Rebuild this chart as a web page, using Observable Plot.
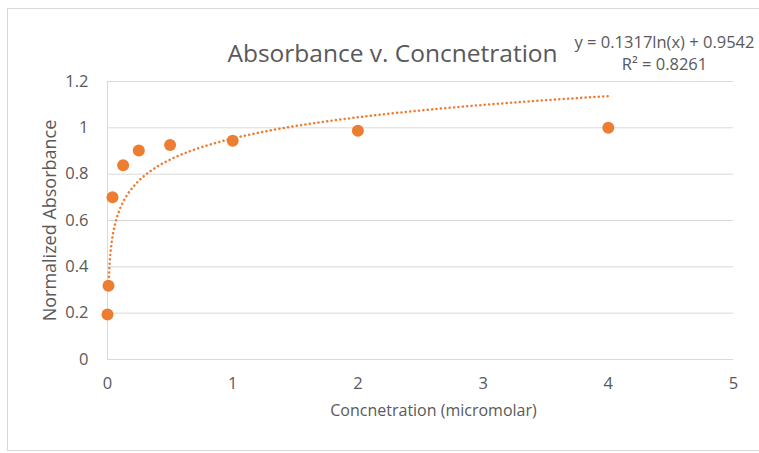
<!DOCTYPE html>
<html>
<head>
<meta charset="utf-8">
<script src="https://cdn.jsdelivr.net/npm/d3@7"></script>
<script src="https://cdn.jsdelivr.net/npm/@observablehq/plot@0.6"></script>
<style>
  html, body { margin: 0; padding: 0; background: #fff; }
  #wrap { position: relative; width: 759px; height: 453px; overflow: hidden; }
  #border { position: absolute; left: 7px; top: 8px; width: 800px; height: 441px; border: 1px solid #d9d9d9; pointer-events: none; }
  #chart { position: absolute; left: 0; top: 0; }
</style>
</head>
<body>
<div id="wrap"><div id="chart"></div><div id="border"></div></div>
<script>
const concentration = [0, 0.008, 0.04, 0.125, 0.25, 0.5, 1, 2, 4];
const absorbance = [0.194, 0.318, 0.70, 0.838, 0.902, 0.926, 0.944, 0.987, 1.0];
const xTicks = [0, 1, 2, 3, 4, 5];
const yTicks = [0, 0.2, 0.4, 0.6, 0.8, 1, 1.2];
const trendA = 0.1317, trendB = 0.9542, trendR2 = 0.8261;
const titleText = "Absorbance v. Concnetration";
const xLabel = "Concnetration (micromolar)";
const yLabel = "Normalized Absorbance";

const points = concentration.map((c, i) => ({x: c, y: absorbance[i]}));
const positive = concentration.filter(c => c > 0);
const xmin = d3.min(positive), xmax = d3.max(positive);
const trend = d3.range(0, 301).map(i => {
  const x = xmin * Math.pow(xmax / xmin, i / 300);
  return {x, y: trendA * Math.log(x) + trendB};
});

const orange = "#ED7D31";
const grey = "#595959";
const font = "'Open Sans', sans-serif";

const chart = Plot.plot({
  width: 759,
  height: 453,
  marginLeft: 107,
  marginRight: 26,
  marginTop: 81,
  marginBottom: 94,
  style: {fontFamily: font, color: grey, background: "transparent", overflow: "visible"},
  x: {domain: [0, 5]},
  y: {domain: [0, 1.2]},
  marks: [
    Plot.gridY(yTicks, {stroke: "#d9d9d9", strokeOpacity: 1, strokeWidth: 1}),
    Plot.ruleX([0], {stroke: "#d9d9d9", strokeWidth: 1}),
    Plot.axisY({ticks: yTicks, tickSize: 0, tickPadding: 19, fontSize: 16.5, label: null, tickFormat: d => String(d)}),
    Plot.axisX({ticks: xTicks, tickSize: 0, tickPadding: 18, fontSize: 16.5, label: null, tickFormat: d => String(d)}),
    Plot.line(trend, {x: "x", y: "y", stroke: orange, strokeWidth: 2.5, strokeDasharray: "0.1 4.3", strokeLinecap: "round"}),
    Plot.dot(points, {x: "x", y: "y", r: 6, fill: orange, stroke: "none"}),
    Plot.text([titleText], {frameAnchor: "top", dx: -28, dy: -37, fontSize: 24.5, fill: grey}),
    Plot.text([`y = ${trendA}ln(x) + ${trendB}`], {frameAnchor: "top-right", dx: -69, dy: -45, fontSize: 16.5, fill: grey, textAnchor: "middle"}),
    Plot.text([`R² = ${trendR2}`], {frameAnchor: "top-right", dx: -69, dy: -23, fontSize: 16.5, fill: grey, textAnchor: "middle"}),
    Plot.text([xLabel], {frameAnchor: "bottom", dx: 13, dy: 56, fontSize: 16, fill: grey}),
    Plot.text([yLabel], {frameAnchor: "left", dx: -57, rotate: -90, textAnchor: "middle", fontSize: 18, fill: grey})
  ]
});
document.getElementById("chart").appendChild(chart);
</script>
</body>
</html>
